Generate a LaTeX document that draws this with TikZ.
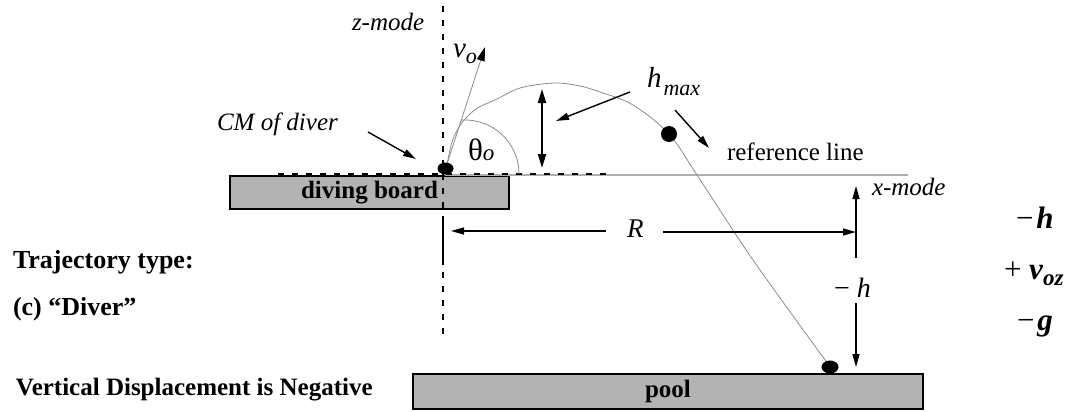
\documentclass[tikz,border=0pt]{standalone}
\usepackage{fontspec}
\setmainfont{Liberation Serif}
\usetikzlibrary{arrows.meta,shapes.geometric}
\definecolor{boxgray}{RGB}{179,179,179}
\definecolor{trajgray}{RGB}{140,140,140}
\definecolor{refgray}{RGB}{175,175,175}
\newcommand\myfs[1]{\fontsize{#1}{#1}\selectfont}
\begin{document}
\begin{tikzpicture}[x=1pt,y=-1pt,
  every node/.style={inner sep=0pt, outer sep=0pt},
  boardbox/.style={draw=black, line width=2pt, fill=boxgray, font=\myfs{25}\bfseries},
  txt/.style={anchor=base west, font=\myfs{25}},
  itxt/.style={anchor=base west, font=\myfs{25}\itshape},
  btxt/.style={anchor=base west, font=\myfs{26}\bfseries},
  arr/.style={line width=1.4pt, -{Triangle[length=13pt,width=7pt]}},
  dsh/.style={line width=2pt, dash pattern=on 6pt off 8pt},
  blob/.style={ellipse, fill=black, draw=none}
]
\useasboundingbox (0,0) rectangle (1073,412);

% boxes
\node[boardbox, minimum width=279, minimum height=33] (bd) at (369.5,192.5) {diving board};
\node[boardbox, minimum width=510, minimum height=35] (pool) at (668,391.5) {pool};

% reference line (grey) and dashed part
\coordinate (rl0) at (445,175);
\coordinate (rl1) at (908,175);
\draw[refgray, line width=2pt] (rl0) -- (rl1);
\coordinate (hd0) at (278,173.5);
\coordinate (hd1) at (612,173.5);
\draw[dsh] (hd0) -- (hd1);

% vertical z line
\coordinate (z0) at (443,6);
\coordinate (z1) at (443,216);
\coordinate (z2) at (443,265);
\coordinate (z3) at (443,272);
\coordinate (z4) at (443,340);
\draw[dsh] (z0) -- (z1);
\draw[line width=2pt] (z1) -- (z2);
\draw[dsh] (z3) -- (z4);

% theta arc
\coordinate (th0) at (519,174);
\draw[trajgray, line width=0.8pt] (th0) arc[start angle=0, end angle=-95, x radius=54, y radius=54];

% trajectory
\draw[trajgray, line width=0.8pt] plot[smooth, tension=0.55] coordinates
 {(447,165) (452,142) (461,124) (476,109) (497,99) (517,89) (535,85) (557,83) (580,86) (600,92) (633,105) (669,134) (697,175) (753,260) (828,364)};

% v_o arrow
\coordinate (v0) at (447,164);
\coordinate (v1) at (485,47);
\draw[trajgray, line width=0.8pt, -{Triangle[length=14pt,width=8pt,black]}] (v0) -- (v1);

% dots
\node[blob, minimum width=16, minimum height=12] (d0) at (445.5,168.5) {};
\node[blob, minimum width=16, minimum height=16] (d1) at (669,134) {};
\node[blob, minimum width=17, minimum height=13] (d2) at (830,367) {};

% labels
\node[itxt] (zm) at (352,31) {z-mode};
\node[anchor=base west] (vo) at (453,57) {\myfs{29}\itshape v\myfs{22}\raisebox{-6pt}{o}};
\node[itxt] (cm) at (217,130) {CM of diver};
\node[anchor=base west] (th) at (468,160) {\myfs{31}θ\myfs{23}\itshape o};
\node[anchor=base west] (hm) at (647,88) {\myfs{29}\itshape h\hspace{2pt}\myfs{22}\raisebox{-7pt}{max}};
\node[txt] (rt) at (727,160) {reference line};
\node[itxt] (xm) at (872,195) {x-mode};
\node[anchor=base west, font=\myfs{27}\itshape] (R) at (627,237) {R};
\node[anchor=base west, font=\myfs{28}] (mh) at (834,297) {− \itshape h};

% left texts
\node[btxt] (t1) at (13,268) {Trajectory type:};
\node[btxt] (t2) at (13,315) {(c) “Diver”};
\node[btxt, font=\myfs{25}\bfseries] (t3) at (16,395) {Vertical Displacement is Negative};

% right texts
\node[anchor=base west, font=\myfs{31}] (r1) at (1016,228) {−\hspace{3pt}\bfseries\itshape h};
\node[anchor=base west, font=\myfs{31}] (r2) at (1004,279) {+ \bfseries\itshape v\myfs{23}\raisebox{-6pt}{oz}};
\node[anchor=base west, font=\myfs{31}] (r3) at (1017,330) {−\hspace{3pt}\bfseries\itshape g};

% pointer arrows
\coordinate (cmA) at (368,132);
\coordinate (cmB) at (416,159);
\draw[arr] (cmA) -- (cmB);
\coordinate (hmA) at (630,92);
\coordinate (hmB) at (556,121);
\draw[arr] (hmA) -- (hmB);
\coordinate (rfA) at (675,110);
\coordinate (rfB) at (709,148);
\draw[arr] (rfA) -- (rfB);

% h_max double arrow
\coordinate (hx0) at (542,89);
\coordinate (hx1) at (542,168);
\draw[line width=2.2pt, {Triangle[length=14pt,width=8pt]}-{Triangle[length=14pt,width=8pt]}] (hx0) -- (hx1);

% R arrows
\coordinate (Ra) at (606,231);
\coordinate (Rb) at (451,231);
\draw[arr] (Ra) -- (Rb);
\coordinate (Rc) at (663,232);
\coordinate (Rd) at (856,232);
\draw[arr] (Rc) -- (Rd);

% -h arrows
\coordinate (ha) at (856,258);
\coordinate (hb) at (856,186);
\draw[arr] (ha) -- (hb);
\coordinate (hc) at (856,303);
\coordinate (hd) at (856,367);
\draw[arr] (hc) -- (hd);
\end{tikzpicture}
\end{document}
